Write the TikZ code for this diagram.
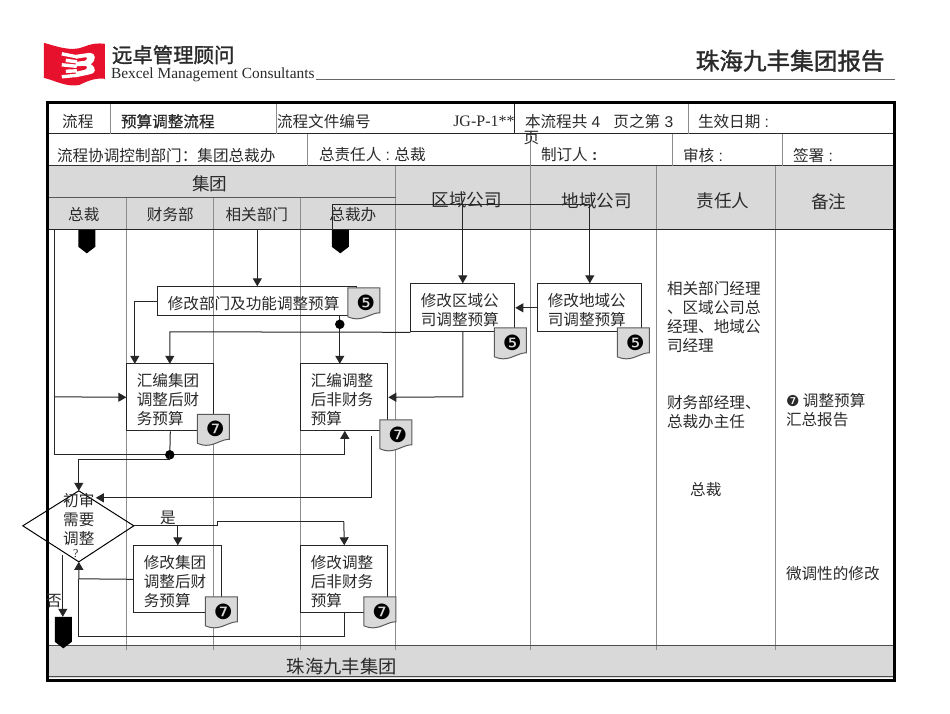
\documentclass[tikz,border=0pt]{standalone}
\usepackage{fontspec}
\usetikzlibrary{arrows.meta,shapes.geometric,calc}
\setmainfont{Liberation Serif}
\newfontfamily\cjk{Noto Sans CJK SC}
\newfontfamily\cjkb[FakeBold=0.6]{Noto Sans CJK SC}
\newfontfamily\cjkc[FakeBold=1.4]{Noto Sans CJK SC}
\newfontfamily\dejav{DejaVu Sans}
\newfontfamily\arialf{Liberation Sans}
\definecolor{bandgray}{HTML}{D9D9D9}
\definecolor{gridgray}{HTML}{8C8C8C}
\definecolor{inkgray}{HTML}{2A2A2A}
\definecolor{logored}{HTML}{E8112D}
\tikzset{
  lab/.style={inner sep=0pt,yshift=-1.5pt,text=inkgray,font=\cjk\fontsize{15.6}{19}\selectfont,align=left},
  labl/.style={lab,anchor=west},
  head/.style={inner sep=0pt,yshift=-1.5pt,text=inkgray,font=\cjk\fontsize{17.6}{20}\selectfont},
  flowbox/.style={draw=black!85,line width=1pt,inner xsep=10pt,inner ysep=0pt,align=left,
     text=inkgray,font=\cjk\fontsize{15.6}{19}\selectfont,execute at begin node={\rule{0pt}{18pt}}},
  conn/.style={draw=black!85,line width=1pt},
  arr/.style={conn,-{Triangle[length=8pt,width=9pt]}},
  gridl/.style={draw=gridgray,line width=.8pt},
  rowl/.style={draw=black!85,line width=1pt},
  junct/.style={circle,fill=black,inner sep=0pt,minimum size=9.5pt},
  numb/.style={inner sep=0pt,font=\dejav\fontsize{21}{21}\selectfont},
}
\newcommand{\docsym}[4]{% name, x, y, digit
  \begin{scope}[shift={(#2,#3)}]
    \fill[bandgray] (0,0) -- (32,0) -- (32,25)
       .. controls (24,25) and (18,31) .. (9,31) .. controls (5,31) and (3,30) .. (0,29) -- cycle;
    \draw[draw=black!65,line width=1pt] (0,29) -- (0,0) -- (32,0) -- (32,25)
       .. controls (24,25) and (18,31) .. (9,31) .. controls (5,31) and (3,30) .. (0,29);
    \node[numb] (#1) at (18,15) {#4};
  \end{scope}}
\newcommand{\markerdown}[3]{% x left, y top, height to shoulder
  \fill[black] (#1,#2) -- ++(17,0) -- ++(0,#3) -- ++(-8.5,6.5) -- ++(-8.5,-6.5) -- cycle;}
\begin{document}
\begin{tikzpicture}[x=1pt,y=-1pt]
\useasboundingbox (0.2,0.2) rectangle (950.2,713.2);
\fill[white] (0,0) rectangle (951,714);

% ---- logo
\fill[logored] (44,43) .. controls (58,47) and (72,52) .. (84,47) .. controls (91,44) and (98,43) .. (105,44)
   -- (105,79) .. controls (95,78) and (88,81) .. (80,85) .. controls (68,88) and (56,81) .. (44,78) -- cycle;
\begin{scope}[line width=3.4pt,white]
  \draw (62,54) -- (77,57);
  \draw (66,60.5) -- (77,62);
  \draw (62,65) -- (77,66.5);
  \draw (66,71.5) -- (77,71);
  \draw (62,77) -- (77,75.5);
  \fill[white] (76,55) -- (90,53) .. controls (96,53) and (97,60) .. (91,64.5)
     .. controls (97,68) and (96,74) .. (90,74.5) -- (76,77.5) -- (76,72) -- (85,70)
     .. controls (88,69) and (88,66) .. (85,66) -- (76,66.5) -- (76,62) -- (85,61)
     .. controls (88,60) and (88,57) .. (85,57.5) -- (76,59) -- cycle;
\end{scope}
\node[inner sep=0pt,anchor=west,font=\cjkc\fontsize{20.4}{22}\selectfont,text=inkgray] (logocn) at (112,55) {远卓管理顾问};
\node[inner sep=0pt,anchor=west,font=\fontsize{15.4}{17}\selectfont,text=inkgray] (logoen) at (111,75) {Bexcel Management Consultants};
\draw[draw=black!60,line width=1.2pt] (316,79.5) -- (895,79.5);
\node[inner sep=0pt,anchor=east,font=\cjkc\fontsize{23.6}{26}\selectfont,text=inkgray] (report) at (885,61) {珠海九丰集团报告};

% ---- gray bands
\fill[bandgray] (48,166) rectangle (895,230);
\fill[bandgray] (48,646) rectangle (895,678);

% ---- swimlane rules
\foreach \xx in {127,214,301,396,531,657,776}
  \draw[gridl] (\xx,230) -- (\xx,650);
\foreach \xx in {127,214,301}
  \draw[gridl] (\xx,198) -- (\xx,230);
\foreach \xx in {396,531,657,776}
  \draw[gridl] (\xx,166) -- (\xx,230);
\draw[draw=black!65,line width=1.1pt] (48,198) -- (396,198);
\draw[rowl] (48,230) -- (895,230);
\draw[draw=black!70,line width=1.1pt] (48,646) -- (895,646);
\draw[rowl] (48,134) -- (895,134);
\draw[draw=black!80,line width=1.1pt] (48,166) -- (895,166);
\draw[gridl] (111,103) -- (111,134);
\draw[gridl] (277,103) -- (277,134);
\draw[rowl] (515,103) -- (515,134);
\draw[gridl] (689,103) -- (689,134);
\draw[gridl] (308,134) -- (308,166);
\draw[gridl] (531,134) -- (531,166);
\draw[gridl] (673,134) -- (673,166);
\draw[gridl] (783,134) -- (783,166);
\draw[draw=black!70,line width=.8pt] (48,677) -- (895,677);
\draw[black,line width=3pt] (47.5,102.5) rectangle (894.5,680.5);

% ---- title rows
\node[lab] (t1) at (78,120) {流程};
\node[labl,font=\cjkb\fontsize{15.6}{19}\selectfont] (t2) at (121,120) {预算调整流程};
\node[labl] (t3) at (277,120) {流程文件编号};
\node[inner sep=0pt,anchor=east,yshift=-1pt,text=inkgray,font=\fontsize{16}{18}\selectfont] (t4) at (515,120) {JG-P-1**};
\node[labl] (t5) at (525,120) {本流程共{\arialf\ 4\ \ \ }页之第{\arialf\ 3}};
\node[lab] (t6) at (531.5,137) {页};
\node[labl] (t7) at (698,120) {生效日期{\arialf\ :}};
\node[labl] (r1) at (57,154) {流程协调控制部门：集团总裁办};
\node[labl] (r2) at (319,153) {总责任人{\arialf\ :\ }总裁};
\node[labl] (r3) at (541,153) {制订人\textbf{{\arialf\ :}}};
\node[labl] (r4) at (683,154) {审核{\arialf\ :}};
\node[labl] (r5) at (793,154) {签署{\arialf\ :}};

% ---- column heads
\node[head] (h0) at (210,182) {集团};
\node[lab] (h1) at (84,213) {总裁};
\node[lab] (h2) at (170.5,213) {财务部};
\node[lab] (h3) at (257,213) {相关部门};
\node[lab] (h4) at (353,213) {总裁办};
\node[head] (h5) at (467,199) {区域公司};
\node[head] (h6) at (597,199) {地域公司};
\node[head] (h7) at (723,200) {责任人};
\node[head] (h8) at (829,200) {备注};

% ---- markers
\markerdown{78.5}{230}{17}
\markerdown{332}{230}{17}
\markerdown{55}{617}{25}
\coordinate (mk2) at (333,230);

% ---- process boxes
\node[flowbox,minimum width=199pt,minimum height=29pt,text width=179pt] (bdept) at (257.5,301.5) {修改部门及功能调整预算};
\node[flowbox,minimum width=104pt,minimum height=48pt,text width=84pt] (bqy) at (463,308) {修改区域公\\司调整预算};
\node[flowbox,minimum width=104pt,minimum height=48pt,text width=84pt] (bdy) at (590,308) {修改地域公\\司调整预算};
\node[flowbox,minimum width=87pt,minimum height=67pt,text width=67pt] (bfin) at (170.5,397.5) {汇编集团\\调整后财\\务预算};
\node[flowbox,minimum width=87pt,minimum height=67pt,text width=67pt] (bnon) at (344.5,397.5) {汇编调整\\后非财务\\预算};
\node[flowbox,minimum width=88pt,minimum height=67pt,text width=68pt] (bfin2) at (178,579.5) {修改集团\\调整后财\\务预算};
\node[flowbox,minimum width=87pt,minimum height=67pt,text width=67pt] (bnon2) at (344.5,579.5) {修改调整\\后非财务\\预算};

% ---- diamond
\draw[draw=black,line width=1pt] (79,491) -- (134,526) -- (79,562) -- (23,526) -- cycle;
\coordinate (dtop) at (79,491);
\coordinate (dright) at (134,526);
\coordinate (dbot) at (79,562);
\node[lab,align=center] (d1) at (79,518) {初审\\需要\\调整};
\node[inner sep=0pt,text=inkgray,font=\fontsize{12}{12}\selectfont] (d2) at (76,554) {?};
\node[lab] (yes) at (168,517) {是};
\node[lab] (no) at (54,600) {否};

% ---- connectors
\coordinate (top) at (463,205);
\coordinate (jdept) at (340,324.5);
\coordinate (jfin) at (170,455);
\coordinate (lftop) at (55,230);
\coordinate (lfbot) at (55,455);

\draw[conn] (mk2) -- (333,205) -- (590,205);
\draw[arr] (463,205) -- (bqy.north);
\draw[arr] (590,205) -- (bdy.north);
\draw[arr] (257.5,230) -- (bdept.north);
\draw[arr] (bdept.west) -| (135,364);
\draw[arr] (bqy.south west) -- (170,332) -- (170,364);
\draw[arr] (bdy.west) -- (bqy.east);
\draw[conn] (340,316) -- (jdept);
\draw[arr] (jdept) -- (340,364);
\node[junct] (jd) at (jdept) {};
\draw[arr] (463,332) -- (463,397) -- (bnon.east);
\draw[conn] (lftop) -- (lfbot) -- (345,455);
\draw[arr] (345,455) -- (345,431);
\draw[arr] (55,397) -- (bfin.west);
\draw[conn] (bfin.south) -- (jfin);
\node[junct] (jf) at (jfin) {};
\draw[arr] (jfin) -- (170,460) -- (79,460) -- (dtop);
\draw[arr] (372,436) -- (372,498) -- (96,498);
\draw[conn] (dright) -- (218,526) -- (218,522) -- (344,522);
\draw[arr] (344,522) -- (bnon2.north);
\draw[arr] (178,526) -- (bfin2.north);
\draw[arr] (bfin2.west) -- (79,579) -- (dbot);
\draw[conn] (bnon2.south) -- (344.5,637) -- (79,637) -- (79,579);
\draw[arr] (63,555) -- (63,617);

% ---- document symbols
\docsym{n1}{348}{288}{❺}
\docsym{n2}{494.5}{328}{❺}
\docsym{n3}{617.5}{328}{❺}
\docsym{n4}{197.5}{414.5}{❼}
\docsym{n5}{380}{420}{❼}
\docsym{n6}{205.5}{597}{❼}
\docsym{n7}{364}{597}{❼}

% ---- right columns
\node[lab,anchor=north west] (c1) at (667,279.5) {相关部门经理\\、区域公司总\\经理、地域公\\司经理};
\node[lab,anchor=north west] (c2) at (667,393.5) {财务部经理、\\总裁办主任};
\node[lab] (c3) at (706,488) {总裁};
\node[lab,anchor=north west] (c4) at (786,392) {{\dejav\fontsize{15}{15}\selectfont ❼}\ 调整预算\\汇总报告};
\node[labl] (c5) at (786,572) {微调性的修改};

% ---- footer
\node[inner sep=0pt,yshift=-1pt,text=inkgray,font=\cjk\fontsize{18.3}{20}\selectfont] (foot) at (342,666) {珠海九丰集团};
\end{tikzpicture}
\end{document}
